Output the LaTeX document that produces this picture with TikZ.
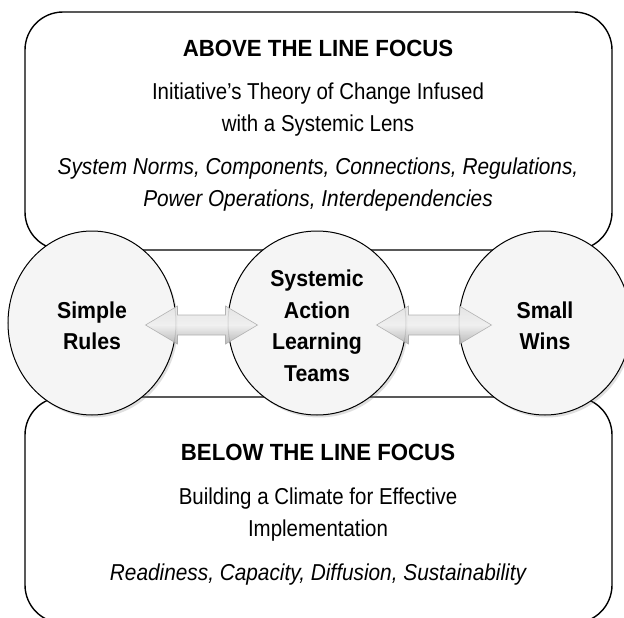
\documentclass[tikz,border=0pt]{standalone}
\usepackage{fontspec}
\setmainfont{Liberation Sans}
\newfontfamily\regN[FakeStretch=0.89]{Liberation Sans}
\newfontfamily\itN[FakeStretch=0.905]{Liberation Sans}
\newfontfamily\bdN[FakeStretch=0.95]{Liberation Sans}
\newfontfamily\cirN[FakeStretch=0.925]{Liberation Sans}
\usetikzlibrary{shapes.geometric,shadows,calc}
\begin{document}
\begin{tikzpicture}[x=1pt,y=-1pt,
  box/.style={draw=black,line width=1.4pt,rounded corners=38pt,fill=white,inner sep=0pt},
  circ/.style={ellipse,draw=black,line width=1pt,fill=gray!8,inner sep=0pt,
    minimum height=184pt,
    drop shadow={opacity=0.25,shadow xshift=2pt,shadow yshift=-2.5pt}},
  ctext/.style={align=center,inner sep=0pt,font=\cirN\fontsize{23}{31.5}\selectfont\bfseries},
  ttl/.style={font=\bdN\fontsize{23.4}{28}\selectfont\bfseries,inner sep=0pt},
  body/.style={font=\regN\fontsize{23}{32}\selectfont,align=center,inner sep=0pt},
  ital/.style={font=\itN\fontsize{23}{32}\selectfont\itshape,align=center,inner sep=0pt},
  arr/.style={draw=gray!65,line width=0.6pt,top color=gray!22,bottom color=gray!60,
    middle color=gray!12,opacity=0.9,line join=miter}
]
\useasboundingbox (0,0) rectangle (624,618);
\clip (0,0) rectangle (624,618);
\fill[white] (0,0) rectangle (624,618);

% boxes
\node[box,minimum width=587pt,minimum height=238pt] (top) at (318.5,131) {};
\node[box,minimum width=587pt,minimum height=226pt] (bot) at (318.5,510) {};

% texts in boxes
\node[ttl] (t1) at (318,48) {ABOVE THE LINE FOCUS};
\node[body] (t2) at (318,110) {Initiative’s Theory of Change Infused\\with a Systemic Lens};
\node[ital] (t3) at (318,185) {System Norms, Components, Connections, Regulations,\\Power Operations, Interdependencies};

\node[ttl] (b1) at (318,452) {BELOW THE LINE FOCUS};
\node[body] (b2) at (318,515) {Building a Climate for Effective\\Implementation};
\node[ital] (b3) at (318,575) {Readiness, Capacity, Diffusion, Sustainability};

% circles
\node[circ,minimum width=168pt] (L) at (92,323) {};
\node[circ,minimum width=178pt] (M) at (317,323) {};
\node[circ,minimum width=172pt] (R) at (545,323) {};
\node[ctext] (Lt) at ($(L.center)+(0,3)$) {Simple\\Rules};
\node[ctext] (Mt) at ($(M.center)+(0,3)$) {Systemic\\Action\\Learning\\Teams};
\node[ctext] (Rt) at ($(R.center)+(0,3)$) {Small\\Wins};

% double arrows between circles
\coordinate (a1) at ($(L.east)+(-31,2)$);
\coordinate (a2) at ($(M.west)+(30,2)$);
\path[arr] (a1) -- ++(32,-19) -- ++(0,9) -- ($(a2)+(-32,-10)$) -- ++(0,-9) -- (a2)
  -- ++(-32,19) -- ++(0,-9) -- ($(a1)+(32,10)$) -- ++(0,9) -- cycle;
\coordinate (c1) at ($(M.east)+(-30,2)$);
\coordinate (c2) at ($(R.west)+(33,2)$);
\path[arr] (c1) -- ++(32,-19) -- ++(0,9) -- ($(c2)+(-32,-10)$) -- ++(0,-9) -- (c2)
  -- ++(-32,19) -- ++(0,-9) -- ($(c1)+(32,10)$) -- ++(0,9) -- cycle;
\end{tikzpicture}
\end{document}
